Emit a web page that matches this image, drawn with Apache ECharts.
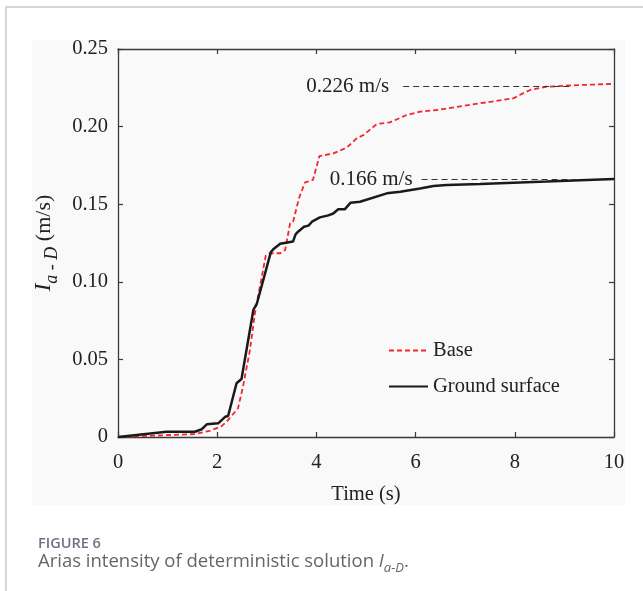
<!DOCTYPE html>
<html>
<head>
<meta charset="utf-8">
<script src="https://cdn.jsdelivr.net/npm/echarts@6/dist/echarts.min.js"></script>
<style>html,body{margin:0;padding:0;background:#fff}#c{width:643px;height:591px}</style>
</head>
<body>
<div id="c"></div>
<script>
// ---- data ----
const timeBase = [0, 0.51, 1.55, 1.85, 2.09, 2.19, 2.42, 2.52, 2.66, 2.76, 2.98, 3.06, 3.27, 3.37, 3.47, 3.53, 3.65, 3.77, 3.93, 4.06, 4.34, 4.61, 4.81, 4.95, 5.22, 5.48, 5.82, 6.09, 6.43, 7.3, 7.97, 8.1, 8.31, 8.64, 9.31, 10];
const valueBase = [0, 0.0006, 0.0019, 0.004, 0.007, 0.0099, 0.0185, 0.0324, 0.056, 0.0797, 0.117, 0.1184, 0.1184, 0.1205, 0.1377, 0.1387, 0.154, 0.164, 0.1656, 0.181, 0.1827, 0.1864, 0.1924, 0.1946, 0.2017, 0.2027, 0.2075, 0.2096, 0.2107, 0.215, 0.2182, 0.2204, 0.2236, 0.2257, 0.2268, 0.2275];
const timeGround = [0, 0.98, 1.55, 1.69, 1.79, 2.02, 2.16, 2.22, 2.39, 2.49, 2.73, 2.8, 3.08, 3.13, 3.27, 3.53, 3.58, 3.63, 3.75, 3.84, 3.92, 4.07, 4.24, 4.34, 4.44, 4.57, 4.69, 4.88, 5.42, 5.69, 6.09, 6.36, 6.63, 7.3, 8.64, 10];
const valueGround = [0, 0.0034, 0.0034, 0.005, 0.0082, 0.0088, 0.013, 0.0135, 0.0346, 0.0374, 0.082, 0.086, 0.119, 0.121, 0.1245, 0.126, 0.1306, 0.1323, 0.1355, 0.1362, 0.139, 0.1415, 0.1428, 0.144, 0.1467, 0.1467, 0.151, 0.1516, 0.157, 0.158, 0.1601, 0.1617, 0.1624, 0.163, 0.1646, 0.1663];
const seriesNames = ['Base', 'Ground surface'];
const annotValues = [0.226, 0.166];
const annotLabels = ['0.226 m/s', '0.166 m/s'];
const annotStart = [5.75, 6.12];
const annotEnd = [9.1, 9.35];
const xTicks = {min: 0, max: 10, interval: 2};
const yTicks = {min: 0, max: 0.25, interval: 0.05};

const serif = 'Liberation Serif';
const pairs = (t, v) => t.map((x, i) => [x, v[i]]);

const chart = echarts.init(document.getElementById('c'), null, {renderer: 'canvas'});
const axisLine = {show: true, onZero: false, lineStyle: {color: '#3a3a3a', width: 1.3}};
const tick = {show: true, inside: true, length: 5, lineStyle: {color: '#3a3a3a', width: 1.2}};
const annotGap = [14, 9];

chart.setOption({
  animation: false,
  backgroundColor: '#ffffff',
  graphic: [
    {type: 'rect', z: -10, shape: {x: 6, y: 7, width: 800, height: 800}, style: {fill: '#fff', stroke: '#c9c9c9', lineWidth: 1.5}},
    {type: 'rect', z: -9, shape: {x: 32, y: 40, width: 593, height: 465}, style: {fill: '#f9f9f9'}},
    {type: 'text', left: 38, top: 536, style: {text: 'FIGURE 6', font: '600 14.5px "Open Sans"', fill: '#6b7385'}},
    {type: 'text', left: 38, top: 552, style: {
      text: '{n|Arias intensity of deterministic solution }{i|I}{s|a-D}{n|.}',
      rich: {
        n: {fontFamily: 'Open Sans', fontSize: 18.5, fill: '#666', lineHeight: 26, verticalAlign: 'bottom'},
        i: {fontFamily: 'Open Sans', fontStyle: 'italic', fontSize: 18.5, fill: '#666', lineHeight: 26, verticalAlign: 'bottom'},
        s: {fontFamily: 'Open Sans', fontStyle: 'italic', fontSize: 13, fill: '#666', lineHeight: 20, verticalAlign: 'bottom', padding: [0, 0, -4, 0]}
      }
    }}
  ],
  grid: {left: 118, top: 49, width: 496, height: 388},
  legend: {
    orient: 'vertical', left: 388, top: 340, padding: 0, itemWidth: 39, itemHeight: 14, itemGap: 15,
    data: seriesNames,
    itemStyle: {opacity: 0},
    textStyle: {fontFamily: serif, fontSize: 20.5, color: '#222'}
  },
  xAxis: [
    {type: 'value', position: 'bottom', min: xTicks.min, max: xTicks.max, interval: xTicks.interval,
     axisLine: axisLine, axisTick: tick, splitLine: {show: false},
     axisLabel: {fontFamily: serif, fontSize: 20.5, color: '#222', margin: 15},
     name: 'Time (s)', nameLocation: 'middle', nameGap: 47,
     nameTextStyle: {fontFamily: serif, fontSize: 20.5, color: '#222'}},
    {type: 'value', position: 'top', min: xTicks.min, max: xTicks.max, interval: xTicks.interval,
     axisLine: axisLine, axisTick: tick, splitLine: {show: false}, axisLabel: {show: false}}
  ],
  yAxis: [
    {type: 'value', position: 'left', min: yTicks.min, max: yTicks.max, interval: yTicks.interval,
     axisLine: axisLine, axisTick: tick, splitLine: {show: false},
     axisLabel: {fontFamily: serif, fontSize: 20.5, color: '#222', margin: 10,
       formatter: v => v === 0 ? '0' : v.toFixed(2)},
     name: '{i|I}{s|a - D}{n| (m/s)}', nameLocation: 'middle', nameGap: 63, nameRotate: 90,
     nameTextStyle: {
       rich: {
         i: {fontFamily: serif, fontStyle: 'italic', fontSize: 23, color: '#222', lineHeight: 28, verticalAlign: 'bottom'},
         s: {fontFamily: serif, fontStyle: 'italic', fontSize: 18, color: '#222', lineHeight: 22, verticalAlign: 'bottom', padding: [0, 0, -6, 0]},
         n: {fontFamily: serif, fontSize: 22, color: '#222', lineHeight: 28, verticalAlign: 'bottom'}
       }
     }},
    {type: 'value', position: 'right', min: yTicks.min, max: yTicks.max, interval: yTicks.interval,
     axisLine: axisLine, axisTick: tick, splitLine: {show: false}, axisLabel: {show: false}}
  ],
  series: [
    {name: seriesNames[0], type: 'line', data: pairs(timeBase, valueBase), symbol: 'none', z: 3,
     lineStyle: {color: '#f2262b', width: 1.8, type: [5, 3]}, itemStyle: {color: '#f2262b'},
     markLine: {
       silent: true, symbol: 'none',
       lineStyle: {color: '#333', width: 1.1, type: [6, 4]},
       label: {show: true, position: 'start', formatter: p => p.data.name || '',
               fontFamily: serif, fontSize: 21, color: '#222'},
       data: annotValues.map((v, i) => [
         {coord: [annotStart[i], v], name: annotLabels[i], label: {distance: annotGap[i]}},
         {coord: [annotEnd[i], v]}
       ])
     }},
    {name: seriesNames[1], type: 'line', data: pairs(timeGround, valueGround), symbol: 'none', z: 4,
     lineStyle: {color: '#1a1a1a', width: 2.5, type: 'solid'}, itemStyle: {color: '#1a1a1a'}}
  ]
});
</script>
</body>
</html>
